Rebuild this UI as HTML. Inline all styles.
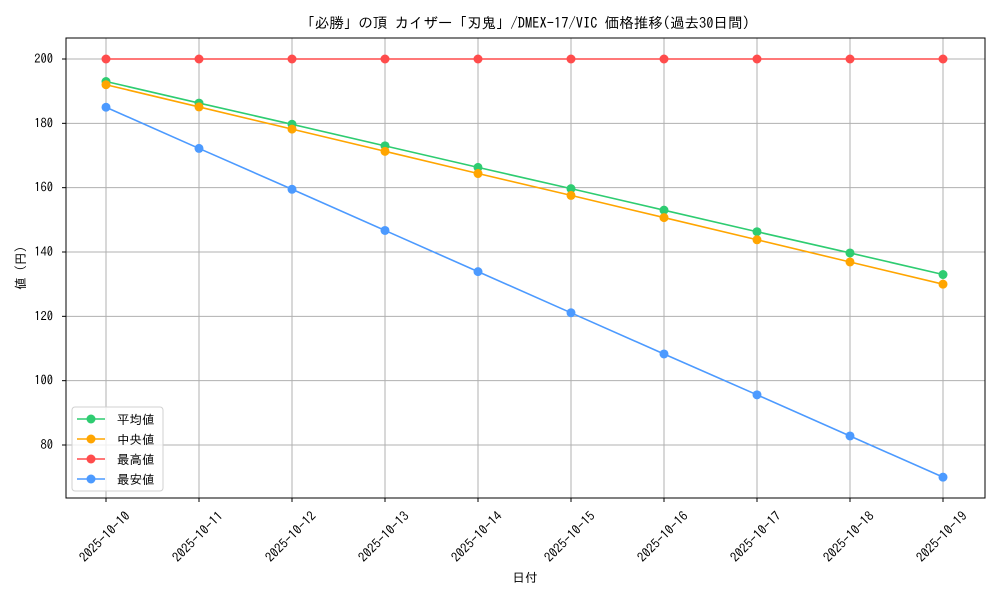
<!DOCTYPE html>
<html><head><meta charset="utf-8"><style>
body{margin:0;background:#fff}
svg text{font-family:"IPAGothic","Noto Sans CJK JP",monospace;fill:#000}
</style></head><body>
<svg id="c" width="1000" height="600"></svg>
<script>
const categories=["2025-10-10","2025-10-11","2025-10-12","2025-10-13","2025-10-14","2025-10-15","2025-10-16","2025-10-17","2025-10-18","2025-10-19"];
const avgValues=[193,186.3,179.7,173,166.3,159.7,153,146.3,139.7,133];
const medValues=[192,185.1,178.2,171.3,164.4,157.6,150.7,143.8,136.9,130];
const maxValues=[200,200,200,200,200,200,200,200,200,200];
const minValues=[185,172.2,159.5,146.7,133.9,121.1,108.3,95.6,82.8,70];
const yTicks=[80,100,120,140,160,180,200];
const seriesNames=["平均値","中央値","最高値","最安値"];
const colors=["#2ecc71","#ffa500","#ff4c4c","#4c9aff"];
const NS="http://www.w3.org/2000/svg";
const svg=document.getElementById("c");
function el(t,a,p){const e=document.createElementNS(NS,t);for(const k in a)e.setAttribute(k,a[k]);(p||svg).appendChild(e);return e;}
const L=66,R=985,T=38,B=498;
const x=i=>106+i*(943-106)/(categories.length-1);
const y=v=>445-(v-80)*(445-59)/120;
categories.forEach((c,i)=>{
  const g=el("line",{x1:x(i),x2:x(i),y1:T,y2:B,stroke:"#b0b0b0","stroke-width":1});
  
  
  el("line",{x1:x(i),x2:x(i),y1:B,y2:B+4,stroke:"#000"});
  const cx=x(i)-1,cy=B+39;
  const t=el("text",{x:cx,y:cy+4,"font-size":13,"text-anchor":"middle",transform:`rotate(-45 ${cx} ${cy})`});
  t.textContent=c;
  
  
});
yTicks.forEach(v=>{
  const g=el("line",{x1:L,x2:R,y1:y(v),y2:y(v),stroke:"#b0b0b0","stroke-width":1});
  
  
  el("line",{x1:L-4,x2:L,y1:y(v),y2:y(v),stroke:"#000"});
  const t=el("text",{x:L-13,y:y(v)+4,"font-size":12.5,"text-anchor":"end"});
  t.textContent=v;
  
  
});
const all=[avgValues,medValues,maxValues,minValues];
all.forEach((vals,s)=>{
  const p=el("polyline",{points:vals.map((v,i)=>x(i)+","+y(v)).join(" "),fill:"none",stroke:colors[s],"stroke-width":1.6});
  
  
  vals.forEach((v,i)=>{
    const c=el("circle",{cx:x(i),cy:y(v),r:4.5,fill:colors[s]});
    
    
  });
});
const frame=el("rect",{x:L,y:T,width:R-L,height:B-T,fill:"none",stroke:"#000","stroke-width":1});


const lg=el("g",{});


el("rect",{x:72,y:407,width:91,height:84,rx:3,fill:"#fff","fill-opacity":0.8,stroke:"#d0d0d0"},lg);
seriesNames.forEach((n,s)=>{
  const yy=419+s*20;
  const e=el("g",{},lg);
  
  
  el("line",{x1:77,x2:105,y1:yy,y2:yy,stroke:colors[s],"stroke-width":1.6},e);
  el("circle",{cx:91,cy:yy,r:4.5,fill:colors[s]},e);
  const t=el("text",{x:117,y:yy+5,"font-size":12.5},e);t.textContent=n;
});
const title=el("text",{x:525,y:28,"font-size":14.5,"text-anchor":"middle"});
title.textContent="「必勝」の頂 カイザー「刃鬼」/DMEX-17/VIC 価格推移(過去30日間)";


const xt=el("text",{x:525,y:582,"font-size":12.5,"text-anchor":"middle"});
xt.textContent="日付";


const yt=el("text",{x:25,y:268,"font-size":12.5,"text-anchor":"middle",transform:"rotate(-90 25 268)"});
yt.textContent="値 (円)";


</script>
</body></html>
